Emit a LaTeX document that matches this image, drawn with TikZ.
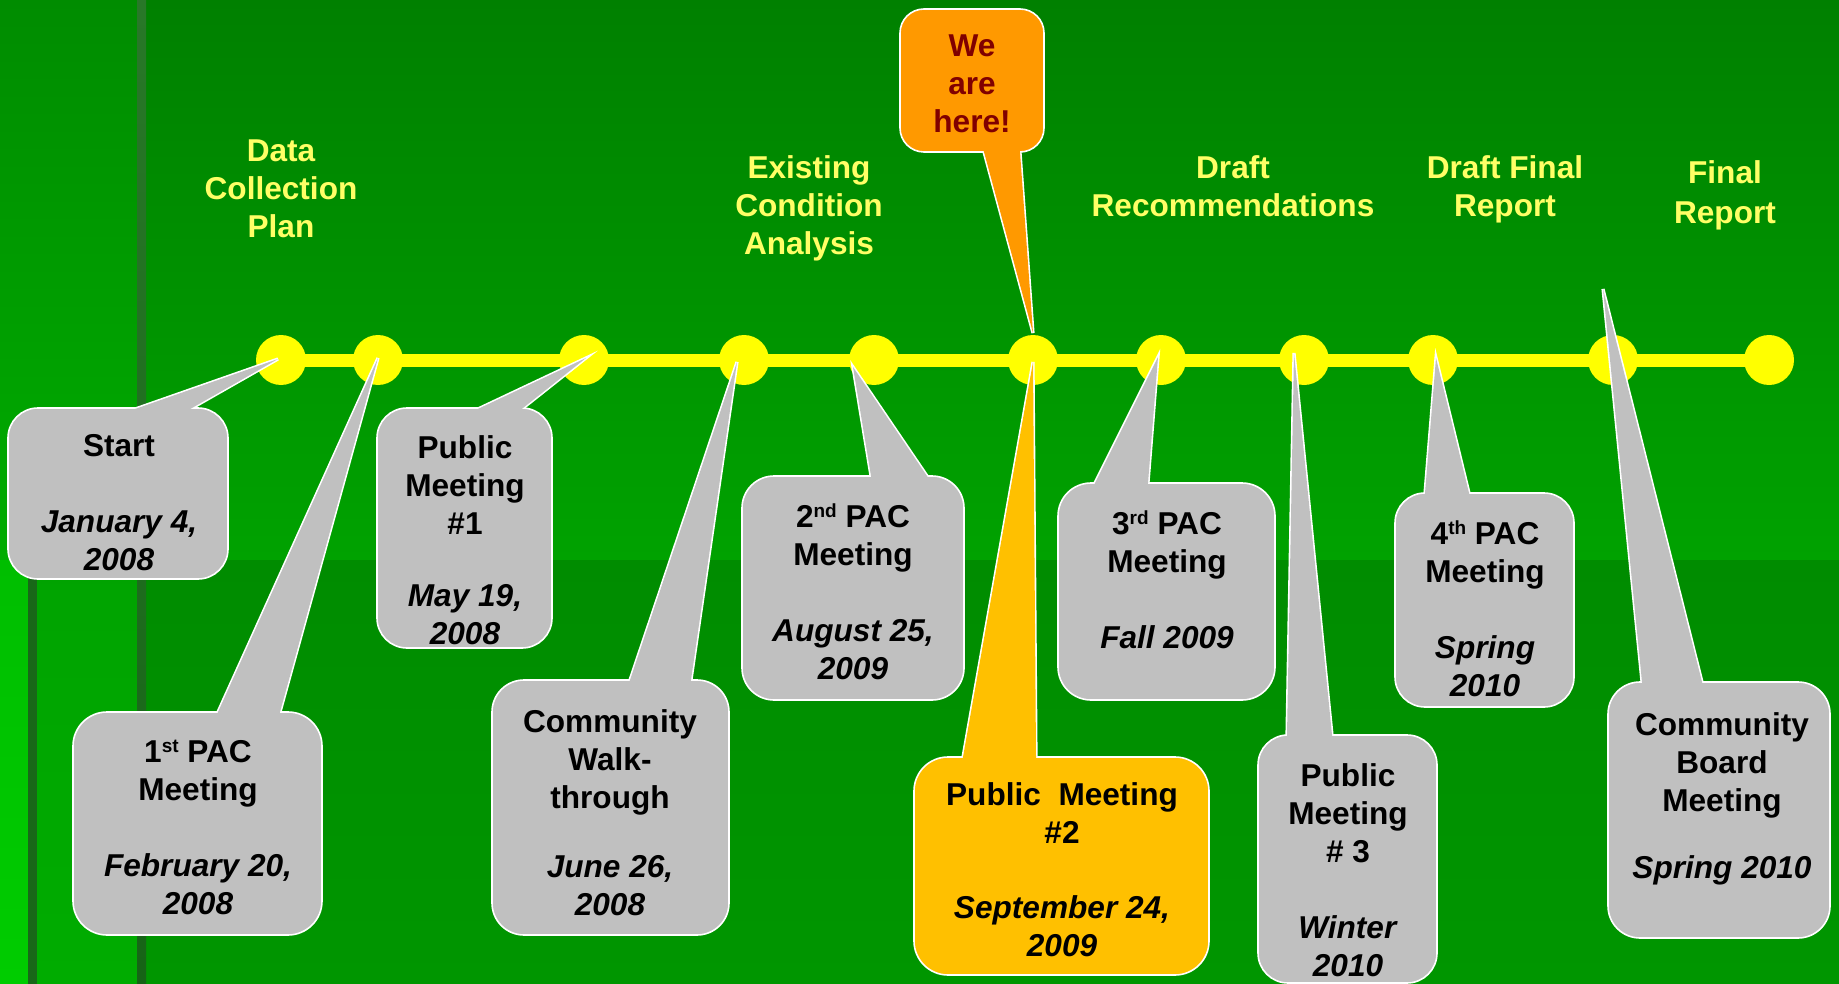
\documentclass[tikz,border=0pt]{standalone}
\usepackage{fontspec}
\setmainfont{Liberation Sans}
\usetikzlibrary{calc}
\definecolor{tlyellow}{RGB}{255,255,0}
\definecolor{labyellow}{RGB}{255,255,102}
\definecolor{cgray}{RGB}{192,192,192}
\definecolor{corange}{RGB}{255,153,0}
\definecolor{cgold}{RGB}{255,192,0}
\definecolor{cdred}{RGB}{128,0,0}
\definecolor{bgA}{RGB}{0,128,0}
\definecolor{bgB}{RGB}{0,162,0}
\definecolor{bgC}{RGB}{0,140,0}
\definecolor{bgD}{RGB}{0,150,0}
\definecolor{lsA}{RGB}{0,140,0}
\definecolor{lsB}{RGB}{0,172,0}
\definecolor{lsC}{RGB}{0,163,0}
\definecolor{lsD}{RGB}{0,172,0}
\definecolor{lsE}{RGB}{0,190,0}
\definecolor{lsF}{RGB}{0,204,0}
\definecolor{vlA}{RGB}{40,120,40}
\definecolor{vlB}{RGB}{22,100,22}
\definecolor{vlC}{RGB}{24,104,24}
\tikzset{
  dot/.style={circle, fill=tlyellow, minimum size=50pt, inner sep=0pt},
  lab/.style={text=labyellow, font=\bfseries\fontsize{31.6}{38}\selectfont, align=center, inner sep=0pt},
  ctext/.style={text=black, font=\bfseries\fontsize{31.6}{38}\selectfont, align=center, inner sep=0pt},
  wtext/.style={text=cdred, font=\bfseries\fontsize{31.6}{38}\selectfont, align=center, inner sep=0pt},
}
\newcommand\sups[1]{\raisebox{10pt}{\fontsize{19}{19}\selectfont #1}}
% #1 fill, #2 corner1, #3 corner2, #4 radius, #5 tip name, #6 base1, #7 base2
\newcommand\cbox[7]{%
  \filldraw[fill=#1, draw=white, line width=3.2pt] ($(#5)!1.08!#6$) -- (#5) -- ($(#5)!1.08!#7$) -- cycle;
  \filldraw[fill=#1, draw=white, line width=1.6pt, rounded corners=#4] #2 rectangle #3;
  \fill[#1] ($(#5)!1.08!#6$) -- (#5) -- ($(#5)!1.08!#7$) -- cycle;
}
\begin{document}
\begin{tikzpicture}[x=1pt,y=-1pt]
\useasboundingbox (0,0) rectangle (1839,984);
\clip (0,0) rectangle (1839,984);
% background
\shade[top color=bgA, bottom color=bgB] (146,0) rectangle (1839,560);
\shade[top color=bgC, bottom color=bgD] (146,560) rectangle (1839,984);
\shade[top color=lsA, bottom color=lsB] (0,0) rectangle (137,560);
\shade[top color=lsC, bottom color=lsD] (37,560) rectangle (137,984);
\shade[top color=lsE, bottom color=lsF] (0,560) rectangle (28,984);
\fill[vlC] (28,560) rectangle (37,984);
\shade[top color=vlA, bottom color=vlB] (137,0) rectangle (146,984);

% timeline dots
\node[dot] (d1) at (281,360) {};
\node[dot] (d2) at (378,360) {};
\node[dot] (d3) at (584,360) {};
\node[dot] (d4) at (744,360) {};
\node[dot] (d5) at (874,360) {};
\node[dot] (d6) at (1033,360) {};
\node[dot] (d7) at (1161,360) {};
\node[dot] (d8) at (1304,360) {};
\node[dot] (d9) at (1433,360) {};
\node[dot] (d10) at (1613,360) {};
\node[dot] (d11) at (1769,360) {};
\draw[tlyellow, line width=13pt] (d1.center) -- (d11.center);

% phase labels
\node[lab] (l1) at (281,188.5) {Data\\Collection\\Plan};
\node[lab] (l2) at (809,208.5) {Existing\\Condition\\Analysis};
\node[lab] (l3) at (1233,186.5) {Draft\\Recommendations};
\node[lab] (l4) at (1505,189.3) {Draft Final\\Report};
\node[lab] (l5) at (1725,195.3) {Final\\[2pt]Report};

% tail tips
\coordinate (t1) at (278,359);
\coordinate (t2) at (378,358);
\coordinate (t3) at (586,358);
\coordinate (t4) at (737,362);
\coordinate (t5) at (853,367);
\coordinate (t6) at (1033,333);
\coordinate (t7) at (1033,362);
\coordinate (t8) at (1158,357);
\coordinate (t9) at (1294,353);
\coordinate (t10) at (1436,358);
\coordinate (t11) at (1603,289);

% callouts
\cbox{cgray}{(8,408)}{(228,579)}{30pt}{t1}{(138,408)}{(192,408)}
\node[ctext] (n1) at (119,502.5) {Start\\[38pt]\textit{January 4,}\\\textit{2008}};

\cbox{cgray}{(73,712)}{(322,935)}{34pt}{t2}{(218,712)}{(280,712)}
\node[ctext] (n2) at (198,827) {1\sups{st} PAC\\Meeting\\[38pt]\textit{February 20,}\\\textit{2008}};

\cbox{cgray}{(377,408)}{(552,648)}{30pt}{t3}{(480,408)}{(523,408)}
\node[ctext] (n3) at (465,540.5) {Public\\Meeting\\\#1\\[34pt]\textit{May 19,}\\\textit{2008}};

\cbox{cgray}{(492,680)}{(729,935)}{32pt}{t4}{(630,680)}{(691,680)}
\node[ctext] (n4) at (610,812.5) {Community\\Walk-\\through\\[31pt]\textit{June 26,}\\\textit{2008}};

\cbox{cgray}{(742,476)}{(964,700)}{32pt}{t5}{(871,476)}{(927,476)}
\node[ctext] (n5) at (853,592) {2\sups{nd} PAC\\Meeting\\[38pt]\textit{August 25,}\\\textit{2009}};

\cbox{corange}{(900,9)}{(1044,152)}{24pt}{t6}{(984,152)}{(1020,152)}
\node[wtext] (n6) at (972,83.5) {We\\are\\here!};

\cbox{cgold}{(914,757)}{(1209,975)}{34pt}{t7}{(963,757)}{(1036,757)}
\node[ctext] (n7) at (1062,870) {Public\ \ Meeting\\\#2\\[37pt]\textit{September 24,}\\\textit{2009}};

\cbox{cgray}{(1058,483)}{(1275,700)}{33pt}{t8}{(1095,483)}{(1148,483)}
\node[ctext] (n8) at (1167,579.5) {3\sups{rd} PAC\\Meeting\\[38pt]\textit{Fall 2009}};

\cbox{cgray}{(1258,735)}{(1437,983)}{30pt}{t9}{(1287,735)}{(1332,735)}
\node[ctext] (n9) at (1348,870) {Public\\Meeting\\\# 3\\[38pt]\textit{Winter}\\\textit{2010}};

\cbox{cgray}{(1395,493)}{(1574,707)}{30pt}{t10}{(1425,493)}{(1469,493)}
\node[ctext] (n10) at (1485,608.5) {4\sups{th} PAC\\Meeting\\[38pt]\textit{Spring}\\\textit{2010}};

\cbox{cgray}{(1608,682)}{(1830,938)}{32pt}{t11}{(1642,682)}{(1702,682)}
\node[ctext] (n11) at (1722,798.8) {Community\\Board\\Meeting\\[29pt]\textit{Spring 2010}};
\end{tikzpicture}
\end{document}
